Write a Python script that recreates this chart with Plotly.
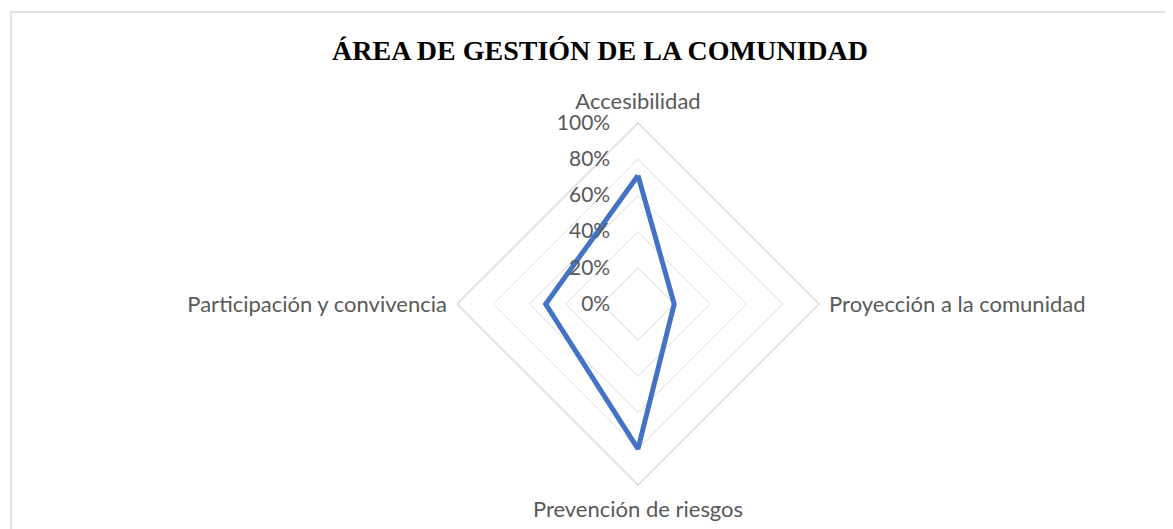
import plotly.graph_objects as go

categorias = ["Accesibilidad", "Proyección a la comunidad", "Prevención de riesgos", "Participación y convivencia"]
valores = [0.71, 0.20, 0.80, 0.51]
ticks = [0, 0.2, 0.4, 0.6, 0.8, 1.0]
tick_text = ["0%", "20%", "40%", "60%", "80%", "100%"]

# la página tiene un margen de 8 px alrededor de la figura
OFF = 8
W, H = 1173 - OFF, 529 - OFF
cx, cy, R = 638 - OFF, 304 - OFF, 181
gris = "#d9d9d9"
texto = "#595959"

fig = go.Figure()
fig.add_trace(go.Scatterpolar(
    r=valores + valores[:1],
    theta=categorias + categorias[:1],
    mode="lines",
    line=dict(color="#4472C4", width=5),
    showlegend=False,
))

fig.update_layout(
    width=W, height=H,
    margin=dict(l=0, r=0, t=0, b=0),
    paper_bgcolor="white",
    font=dict(family="Lato", size=22, color=texto),
    title=dict(text="<b>ÁREA DE GESTIÓN DE LA COMUNIDAD</b>",
               x=(600 - OFF) / W, xanchor="center", y=1 - (50 - OFF) / H, yanchor="middle",
               font=dict(family="Liberation Serif", size=28, color="black")),
    polar=dict(
        domain=dict(x=[(cx - R) / W, (cx + R) / W], y=[(H - cy - R) / H, (H - cy + R) / H]),
        bgcolor="white",
        gridshape="linear",
        radialaxis=dict(range=[0, 1], tickvals=ticks, ticktext=tick_text, angle=90,
                        showline=False, ticks="outside", ticklen=20,
                        tickcolor="rgba(0,0,0,0)", gridcolor=gris, gridwidth=1.4,
                        tickangle=90, side="counterclockwise",
                        tickfont=dict(size=21, color=texto)),
        angularaxis=dict(rotation=90, direction="clockwise", showgrid=False,
                         showline=True, linecolor=gris, linewidth=1.4,
                         ticks="outside", ticklen=5, tickcolor="rgba(0,0,0,0)",
                         tickfont=dict(size=22, color=texto)),
    ),
    shapes=[dict(type="rect", xref="paper", yref="paper",
                 x0=(11 - OFF) / W, x1=1.05, y0=-0.1, y1=1 - (12 - OFF) / H,
                 line=dict(color=gris, width=1.5), layer="below")],
)

fig.write_html("out.html")
